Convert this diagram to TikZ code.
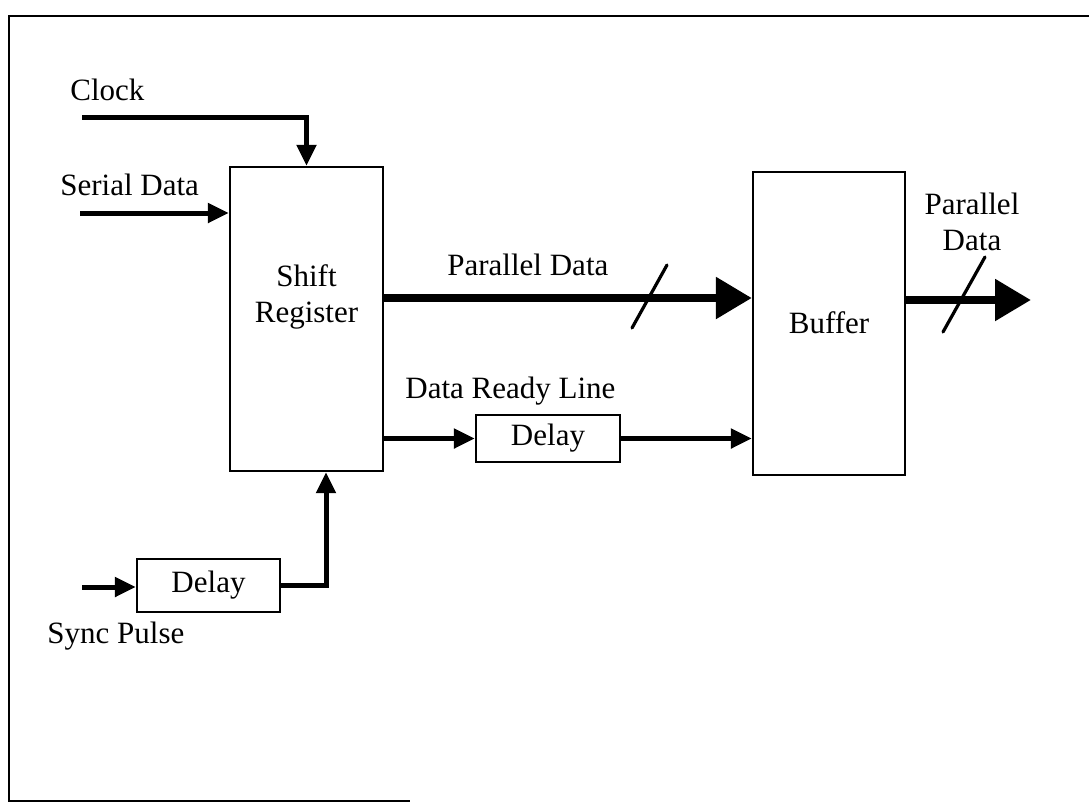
\documentclass[tikz,border=0pt]{standalone}
\usepackage{fontspec}
\setmainfont{Liberation Serif}
\usetikzlibrary{arrows.meta}

\begin{document}
\begin{tikzpicture}[x=0.5pt,y=-0.5pt,
  font=\fontsize{15.5}{18}\selectfont,
  block/.style={draw,line width=1.1pt,inner sep=0pt},
  sig/.style={line width=2.5pt,-{Triangle[length=10.5pt,width=9.5pt]}},
  bus/.style={line width=4.2pt,-{Triangle[length=18pt,width=20pt]}},
  slash/.style={line width=1.6pt,line cap=round}]

\useasboundingbox (0,0) rectangle (1089,804);
\draw[line width=1pt] (1089,16) -- (9,16) -- (9,801) -- (410,801);

\node[block, minimum width=76.5pt, minimum height=152pt] (sr) at (306.5,319) {};
\node[block, minimum width=76pt, minimum height=151.5pt] (buf) at (829,323.5) {};
\node[block, minimum width=72pt, minimum height=23.5pt] (dly1) at (548,438.5) {Delay};
\node[block, minimum width=71.5pt, minimum height=26.5pt] (dly2) at (208.5,585.5) {Delay};

\node[align=center] (srtxt) at (306.5,297) {Shift\\Register};
\node (buftxt) at (829,323) {Buffer};

\node[anchor=base west, inner sep=0pt] (clk) at (70,100) {Clock};
\node[anchor=base west, inner sep=0pt] (ser) at (60,195) {Serial Data};
\node[anchor=base west, inner sep=0pt] (pd) at (447,275) {Parallel Data};
\node[anchor=base west, inner sep=0pt] (drl) at (405,398) {Data Ready Line};
\node[anchor=base west, inner sep=0pt] (sync) at (47,643) {Sync Pulse};
\node[align=center, inner sep=0pt] (pdout) at (972,222) {Parallel\\Data};

\coordinate (clkin) at (82,117);
\coordinate (serin) at (80,213);
\coordinate (syncin) at (82,587);
\coordinate (pdy) at (0,298);
\coordinate (outy) at (0,300);
\coordinate (pdend) at (1031,300);

\draw[sig] (clkin) -| (sr.north);
\draw[sig] (serin) -- (serin -| sr.west);
\draw[bus] (sr.east |- pdy) -- (buf.west |- pdy);
\draw[slash] (632,328) -- (667,265);
\draw[sig] (sr.east |- dly1.west) -- (dly1.west);
\draw[sig] (dly1.east) -- (dly1.east -| buf.west);
\draw[bus] (buf.east |- outy) -- (pdend);
\draw[slash] (943,332) -- (985,257);
\draw[sig] (syncin) -- (syncin -| dly2.west);
\draw[sig] (dly2.east) -| ([xshift=9.75pt]sr.south);

\end{tikzpicture}
\end{document}
